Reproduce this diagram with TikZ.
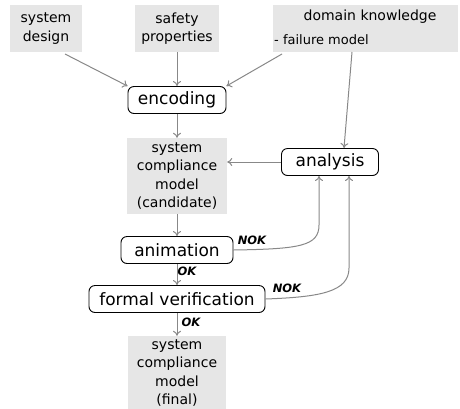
\documentclass[tikz,border=0pt]{standalone}
\usepackage{fontspec}
\setmainfont{DejaVu Sans}
\usetikzlibrary{arrows.meta}
\definecolor{boxgray}{HTML}{E6E6E6}
\definecolor{linegray}{HTML}{888888}
\tikzset{
	inbox/.style={fill=boxgray, draw=none, inner sep=0pt, align=center, font=\fontsize{14}{18.5}\selectfont},
	stepbox/.style={draw=black, fill=white, rounded corners=6pt, inner sep=0pt, line width=0.9pt, font=\fontsize{17}{19}\selectfont},
	flow/.style={draw=linegray, line width=1pt, -{To[length=5pt,width=8pt]}},
	verdict/.style={inner sep=0pt, font=\fontsize{11.5}{13}\selectfont\bfseries\itshape}
}
\begin{document}
\begin{tikzpicture}[x=1pt,y=-1pt]
					\useasboundingbox (0,0) rectangle (460,408);
					% inputs
					\node[inbox, minimum width=72, minimum height=47] (sysdesign) at (46,28.5) {system\\design};
					\node[inbox, minimum width=84, minimum height=47] (safety) at (177,28.5) {safety\\properties};
					\node[inbox, minimum width=185, minimum height=47] (domain) at (365.5,28.5) {};
					\node[inner sep=0pt, font=\fontsize{14}{18}\selectfont] (domaintitle) at (370,17) {domain knowledge};
					\node[inner sep=0pt, anchor=west, font=\fontsize{13}{15}\selectfont] (failure) at (274,40) {- failure model};
					
					% steps
					\node[stepbox, minimum width=98, minimum height=27] (encoding) at (177,100) {encoding};
					\node[stepbox, minimum width=97, minimum height=27] (analysis) at (330,162) {analysis};
					\node[stepbox, minimum width=112, minimum height=27] (animation) at (177,250) {animation};
					\node[stepbox, minimum width=176, minimum height=27] (formal) at (177,299) {formal verification};
					
					% models
					\node[inbox, minimum width=100, minimum height=76] (candidate) at (177,176) {system\\compliance\\model\\(candidate)};
					\node[inbox, minimum width=98, minimum height=74] (final) at (177,373) {system\\compliance\\model\\(final)};
					
					\coordinate (nokone) at (319,176);
					\coordinate (noktwo) at (349,176);
					
					\draw[flow] (65,54) -- (encoding.north west);
					\draw[flow] (safety.south) -- (encoding.north);
					\draw[flow] (282,54) -- (encoding.north east);
					\draw[flow] (352,52) -- (344,148);
					\draw[flow] (encoding.south) -- (candidate.north);
					\draw[flow] (analysis.west) -- (candidate.east |- analysis.west);
					\draw[flow] (candidate.south) -- (animation.north);
					\draw[flow] (animation.south) -- (formal.north);
					\draw[flow] (formal.south) -- (final.north);
					\draw[flow] (animation.east) .. controls (300,249) and (319,246) .. (319,225) -- (nokone);
					\draw[flow] (formal.east) .. controls (320,297) and (349,292) .. (349,268) -- (noktwo);
					
					\node[verdict] (noka) at (252,240) {NOK};
					\node[verdict] (oka) at (187,271) {OK};
					\node[verdict] (nokb) at (287,288) {NOK};
					\node[verdict] (okb) at (191,322) {OK};
					\end{tikzpicture}
\end{document}
